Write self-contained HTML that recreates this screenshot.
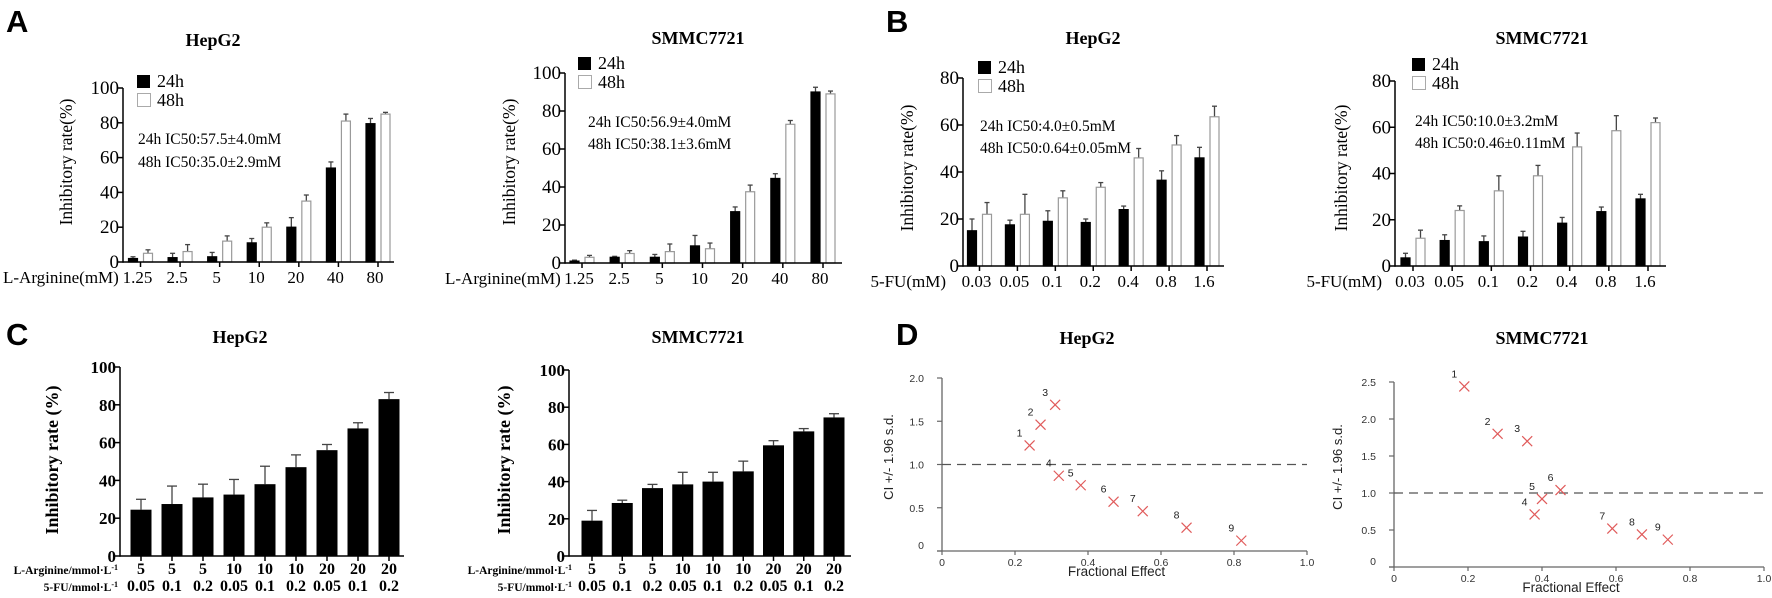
<!DOCTYPE html>
<html><head><meta charset="utf-8">
<style>
html,body{margin:0;padding:0;background:#fff;}
svg{display:block;}
.serif{font-family:"Liberation Serif",serif;}
.sans{font-family:"Liberation Sans",sans-serif;}
</style></head>
<body>
<svg id="fig" width="1772" height="598" viewBox="0 0 1772 598" xmlns="http://www.w3.org/2000/svg">
<g class="sans" font-weight="bold" font-size="31" fill="#000">
<text x="6" y="32">A</text>
<text x="886" y="32">B</text>
<text x="6" y="345">C</text>
<text x="896" y="345">D</text>
</g>
</svg>
<script>
// ---- Panel A data ----
const aCats = ["1.25","2.5","5","10","20","40","80"];
const aHep24 = [2,2.5,3,11,20,54,79.5];
const aHep24Err = [1,2.5,2.5,2.5,5.5,3.5,3];
const aHep48 = [5,6,12,20,35,81,85];
const aHep48Err = [2,4,3,2.5,3.5,4,1];
const aSm24 = [1,3,3,9,27,44.5,90];
const aSm24Err = [0.5,0.5,1.5,5.5,2.5,2.5,2.5];
const aSm48 = [3,5,6,7.5,37.5,73,89];
const aSm48Err = [1,1.5,4,3,3.5,2,1.5];
const aTicks = [0,20,40,60,80,100];
// ---- Panel B data ----
const bCats = ["0.03","0.05","0.1","0.2","0.4","0.8","1.6"];
const bHep24 = [15,17.5,19,18.5,24,36.5,46];
const bHep24Err = [5,2,4.5,1.5,1.5,4,4.5];
const bHep48 = [22,22,29,33.5,46,51.5,63.5];
const bHep48Err = [5,8.5,3,2,4,4,4.5];
const bSm24 = [3.5,11,10.5,12.5,18.5,23.5,29];
const bSm24Err = [2,2.5,2.5,2.5,2.5,2,2];
const bSm48 = [12,24,32.5,39,51.5,58.5,62];
const bSm48Err = [3.5,2,6.5,4.5,6,6.5,2];
const bTicks = [0,20,40,60,80];
// ---- Panel C data ----
const cArg = ["5","5","5","10","10","10","20","20","20"];
const cFu = ["0.05","0.1","0.2","0.05","0.1","0.2","0.05","0.1","0.2"];
const cHep = [24.5,27.5,31,32.5,38,47,56,67.5,83];
const cHepErr = [5.5,9.5,7,8,9.5,6.5,3,3,3.5];
const cSm = [19,28.5,36.5,38.5,40,45.5,59.5,67,74.5];
const cSmErr = [5.5,1.5,2,6.5,5,5.5,2.5,1.5,2];
const cTicks = [0,20,40,60,80,100];
// ---- Panel D data ----
const dHepFa = [0.24,0.27,0.31,0.32,0.38,0.47,0.55,0.67,0.82];
const dHepCi = [1.22,1.46,1.69,0.87,0.76,0.57,0.46,0.27,0.12];
const dSmFa = [0.19,0.28,0.36,0.38,0.40,0.45,0.59,0.67,0.74];
const dSmCi = [2.44,1.80,1.70,0.71,0.92,1.04,0.52,0.44,0.37];
const dLabels = ["1","2","3","4","5","6","7","8","9"];
const dHepYTicks = ["0","0.5","1.0","1.5","2.0"];
const dSmYTicks = ["0","0.5","1.0","1.5","2.0","2.5"];
const dXTicks = ["0","0.2","0.4","0.6","0.8","1.0"];

const NS="http://www.w3.org/2000/svg";
const svg=document.getElementById('fig');
function mk(tag,attrs,parent,text){
  const e=document.createElementNS(NS,tag);
  for(const k in attrs) e.setAttribute(k,attrs[k]);
  if(text!==undefined) e.textContent=text;
  (parent||svg).appendChild(e);
  return e;
}
function line(p,x1,y1,x2,y2,st,w,dash){
  const l=mk('line',{x1,y1,x2,y2,stroke:st||'#000','stroke-width':w||1.5},p);
  if(dash) l.setAttribute('stroke-dasharray',dash);
  return l;
}

// Grouped bar chart (A,B)
function groupChart(c){
  const g=mk('g',{},svg);
  
  
  const ymax=c.ticks[c.ticks.length-1];
  const Y=v=>c.y0-(v/ymax)*(c.y0-c.yTop);
  const X=i=>c.c0+i*(c.c1-c.c0)/(c.cats.length-1);
  const t=mk('text',{x:c.titleX,y:c.titleY,'text-anchor':'middle','font-size':18,'font-weight':'bold',class:'serif'},g,c.title);
  
  
  // bars
  c.cats.forEach((cat,i)=>{
    const cx=X(i);
    [[c.s24,c.e24,-12.5,'#000','#000'],[c.s48,c.e48,2.5,'#fff','#9a9a9a']].forEach((s,k)=>{
      const v=s[0][i],e=s[1][i];
      const bx=cx+s[2];
      line(g,bx+5,Y(v),bx+5,Y(v+e),'#444',1.3);
      line(g,bx+2.5,Y(v+e),bx+7.5,Y(v+e),'#444',1.3);
      const r=mk('rect',{x:bx+0.5,y:Y(v),width:9,height:c.y0-Y(v),fill:s[3],stroke:s[4],'stroke-width':1.2},g);
      
      
    });
    line(g,cx,c.y0,cx,c.y0+5);
    const tl=mk('text',{x:cx-3,y:c.y0+21,'text-anchor':'middle','font-size':17,class:'serif'},g,cat);
    
    
  });
  // axes
  line(g,c.x0,c.y0,c.xEnd,c.y0);
  line(g,c.x0,c.y0+0.75,c.x0,c.yTop);
  c.ticks.forEach(v=>{
    line(g,c.x0-5,Y(v),c.x0,Y(v));
    const tl=mk('text',{x:c.x0-4,y:Y(v)+6,'text-anchor':'end','font-size':19,class:'serif'},g,String(v));
    
    
  });
  const yl=mk('text',{x:0,y:0,'text-anchor':'middle','font-size':17.5,class:'serif',transform:`translate(${c.ylX},${c.ylY}) rotate(-90)`},g,'Inhibitory rate(%)');
  
  
  const xl=mk('text',{x:c.xlX,y:c.y0+21,'text-anchor':c.xlAnchor,'font-size':17,class:'serif'},g,c.xlabel);
  
  
  // legend
  const lg=mk('g',{},g);
  
  
  mk('rect',{x:c.legX,y:c.legY,width:13,height:13,fill:'#000'},lg);
  mk('rect',{x:c.legX+0.5,y:c.legY+18.5,width:13,height:13,fill:'#fff',stroke:'#aaa','stroke-width':1},lg);
  mk('text',{x:c.legX+20,y:c.legY+12,'font-size':18,class:'serif'},lg,'24h');
  mk('text',{x:c.legX+20,y:c.legY+31,'font-size':18,class:'serif'},lg,'48h');
  c.ann.forEach((s,k)=>{
    const a=mk('text',{x:c.annX,y:c.annY+k*c.annDy,'font-size':15.5,class:'serif'},g,s);
    
    
  });
}

groupChart({name:'chart-a-hepg2',title:'HepG2',titleX:213,titleY:46,cats:aCats,s24:aHep24,e24:aHep24Err,s48:aHep48,e48:aHep48Err,ticks:aTicks,
  x0:123,xEnd:394,y0:262,yTop:88,c0:140.5,c1:378,ylX:72,ylY:162,xlX:3,xlAnchor:'start',xlabel:'L-Arginine(mM)',
  legX:137,legY:75,ann:['24h IC50:57.5±4.0mM','48h IC50:35.0±2.9mM'],annX:138,annY:144,annDy:23});
groupChart({name:'chart-a-smmc7721',title:'SMMC7721',titleX:698,titleY:44,cats:aCats,s24:aSm24,e24:aSm24Err,s48:aSm48,e48:aSm48Err,ticks:aTicks,
  x0:565,xEnd:842,y0:263,yTop:73,c0:582,c1:823,ylX:515,ylY:162,xlX:445,xlAnchor:'start',xlabel:'L-Arginine(mM)',
  legX:578,legY:57,ann:['24h IC50:56.9±4.0mM','48h IC50:38.1±3.6mM'],annX:588,annY:127,annDy:22});
groupChart({name:'chart-b-hepg2',title:'HepG2',titleX:1093,titleY:44,cats:bCats,s24:bHep24,e24:bHep24Err,s48:bHep48,e48:bHep48Err,ticks:bTicks,
  x0:963,xEnd:1224,y0:266,yTop:78,c0:979.5,c1:1207,ylX:913,ylY:168,xlX:946,xlAnchor:'end',xlabel:'5-FU(mM)',
  legX:978,legY:61,ann:['24h IC50:4.0±0.5mM','48h IC50:0.64±0.05mM'],annX:980,annY:131,annDy:22});
groupChart({name:'chart-b-smmc7721',title:'SMMC7721',titleX:1542,titleY:44,cats:bCats,s24:bSm24,e24:bSm24Err,s48:bSm48,e48:bSm48Err,ticks:bTicks,
  x0:1395,xEnd:1666,y0:266,yTop:81,c0:1413,c1:1648,ylX:1347,ylY:168,xlX:1382,xlAnchor:'end',xlabel:'5-FU(mM)',
  legX:1412,legY:58,ann:['24h IC50:10.0±3.2mM','48h IC50:0.46±0.11mM'],annX:1415,annY:126,annDy:22});

// Single bar chart (C)
function singleChart(c){
  const g=mk('g',{},svg);
  
  
  const ymax=c.ticks[c.ticks.length-1];
  const Y=v=>c.y0-(v/ymax)*(c.y0-c.yTop);
  const X=i=>c.c0+i*(c.c1-c.c0)/(c.vals.length-1);
  const t=mk('text',{x:c.titleX,y:343,'text-anchor':'middle','font-size':18,'font-weight':'bold',class:'serif'},g,c.title);
  
  
  c.vals.forEach((v,i)=>{
    const cx=X(i),e=c.errs[i];
    line(g,cx,Y(v),cx,Y(v+e),'#444',1.3);
    line(g,cx-5,Y(v+e),cx+5,Y(v+e),'#444',1.3);
    const r=mk('rect',{x:cx-10.5,y:Y(v),width:21,height:c.y0-Y(v),fill:'#000'},g);
    
    
    line(g,cx,c.y0,cx,c.y0+5);
    mk('text',{x:cx,y:574,'text-anchor':'middle','font-size':16,'font-weight':'bold',class:'serif'},g,cArg[i]);
    mk('text',{x:cx,y:591,'text-anchor':'middle','font-size':16,'font-weight':'bold',class:'serif'},g,cFu[i]);
  });
  line(g,c.x0,c.y0,c.xEnd,c.y0);
  line(g,c.x0,c.y0+0.75,c.x0,c.yTop);
  c.ticks.forEach(v=>{
    line(g,c.x0-5,Y(v),c.x0,Y(v));
    const tl=mk('text',{x:c.x0-4,y:Y(v)+6,'text-anchor':'end','font-size':17,'font-weight':'bold',class:'serif'},g,String(v));
    
    
  });
  const yl=mk('text',{x:0,y:0,'text-anchor':'middle','font-size':18,'font-weight':'bold',class:'serif',transform:`translate(${c.ylX},460) rotate(-90)`},g,'Inhibitory rate (%)');
  
  
  const r1=mk('text',{x:c.rowX,y:574,'text-anchor':'end','font-size':11.5,'font-weight':'bold',class:'serif'},g);
  
  
  r1.innerHTML='L-Arginine/mmol·L<tspan dy="-4" font-size="8">-1</tspan>';
  const r2=mk('text',{x:c.rowX,y:591,'text-anchor':'end','font-size':11.5,'font-weight':'bold',class:'serif'},g);
  
  
  r2.innerHTML='5-FU/mmol·L<tspan dy="-4" font-size="8">-1</tspan>';
}
singleChart({name:'chart-c-hepg2',title:'HepG2',titleX:240,vals:cHep,errs:cHepErr,ticks:cTicks,x0:120,xEnd:404,y0:556,yTop:367,c0:141,c1:389,ylX:58,rowX:118});
singleChart({name:'chart-c-smmc7721',title:'SMMC7721',titleX:698,vals:cSm,errs:cSmErr,ticks:cTicks,x0:569,xEnd:851,y0:556,yTop:370,c0:592,c1:834,ylX:510,rowX:572});

// Scatter CI plots (D)
function ciChart(c){
  const g=mk('g',{},svg);
  
  
  const X=v=>c.x0+v*(c.x1-c.x0);
  const Y=v=>c.y0-v*c.ppu;
  const t=mk('text',{x:c.titleX,y:344,'text-anchor':'middle','font-size':18,'font-weight':'bold',class:'serif'},g,c.title);
  
  
  line(g,c.x0-5,c.y0,c.x1,c.y0,'#666',1.3);
  line(g,c.x0,c.y0,c.x0,Y(parseFloat(c.yt[c.yt.length-1])),'#666',1.3);
  c.yt.forEach(s=>{
    const v=parseFloat(s);
    line(g,c.x0-5,Y(v),c.x0,Y(v),'#666',1.2);
    mk('text',{x:c.x0-18,y:Y(v)+(v===0?-2:4),'text-anchor':'end','font-size':10.5,fill:'#333',class:'sans'},g,s);
  });
  dXTicks.forEach(s=>{
    const v=parseFloat(s);
    line(g,X(v),c.y0,X(v),c.y0+4,'#666',1.2);
    mk('text',{x:X(v),y:c.y0+15,'text-anchor':'middle','font-size':10.5,fill:'#333',class:'sans'},g,s);
  });
  const ref=line(g,c.x0,Y(1),c.x1,Y(1),'#555',1.3,'9,6');
  
  
  const xl=mk('text',{x:X(0.5)-8,y:c.y0+25,'text-anchor':'middle','font-size':13.5,fill:'#222',class:'sans'},g,'Fractional Effect');
  
  
  const yl=mk('text',{x:0,y:0,'text-anchor':'middle','font-size':13,fill:'#222',class:'sans',transform:`translate(${c.ylX},${c.ylY}) rotate(-90)`},g,'CI +/- 1.96 s.d.');
  
  
  c.fa.forEach((f,i)=>{
    const px=X(f),py=Y(c.ci[i]);
    const m=mk('g',{},g);
    
    
    line(m,px-5,py-5,px+5,py+5,'#e05a5a',1.2);
    line(m,px-5,py+5,px+5,py-5,'#e05a5a',1.2);
    mk('text',{x:px-10,y:py-9,'text-anchor':'middle','font-size':10.5,fill:'#222',class:'sans'},m,dLabels[i]);
  });
}
ciChart({name:'chart-d-hepg2',title:'HepG2',titleX:1087,fa:dHepFa,ci:dHepCi,yt:dHepYTicks,x0:942,x1:1307,y0:551,ppu:86.5,ylX:893,ylY:457});
ciChart({name:'chart-d-smmc7721',title:'SMMC7721',titleX:1542,fa:dSmFa,ci:dSmCi,yt:dSmYTicks,x0:1394,x1:1764,y0:567,ppu:74,ylX:1342,ylY:467});
</script>
</body></html>
